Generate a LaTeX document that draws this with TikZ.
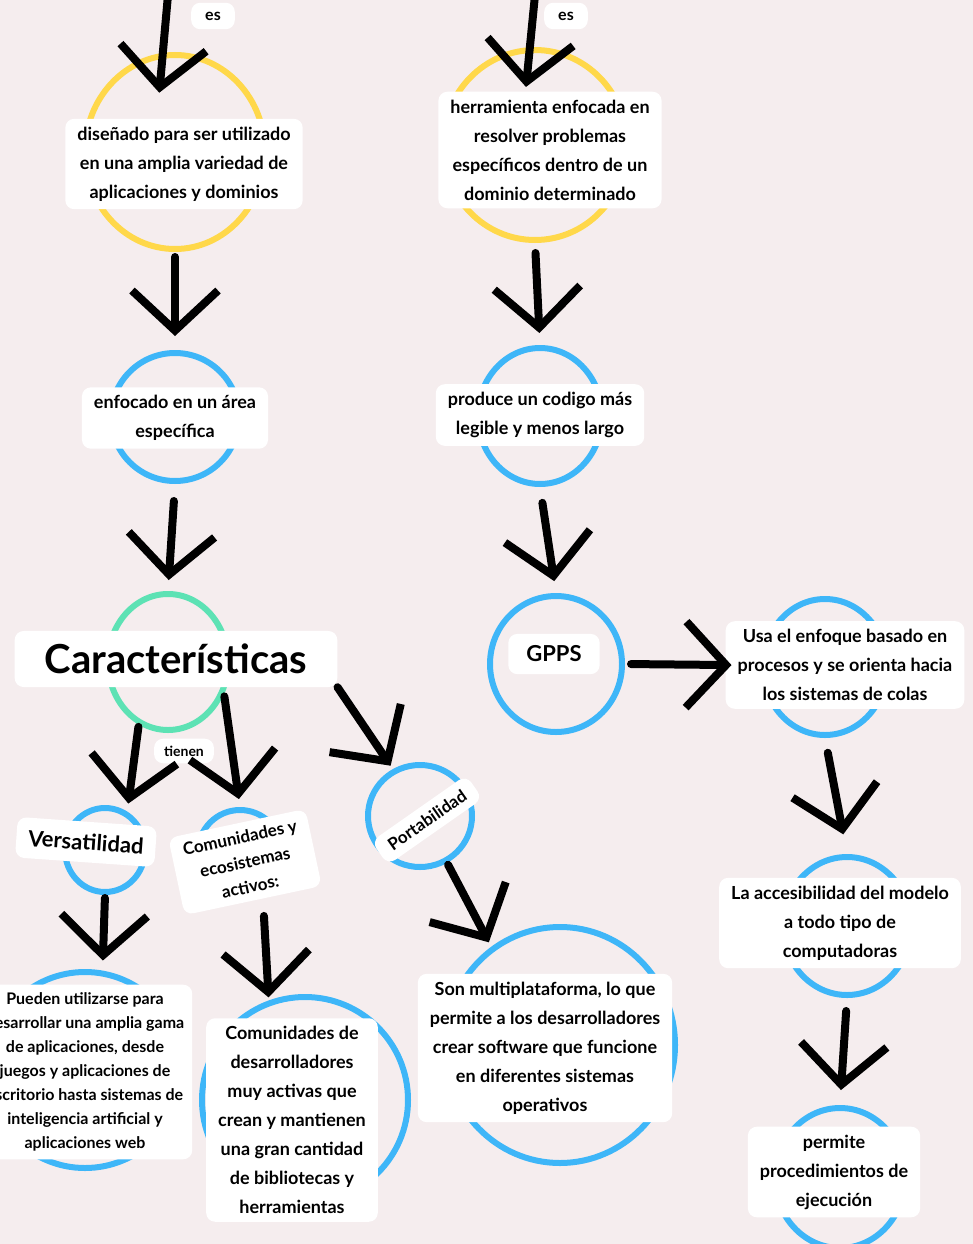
\documentclass[tikz,border=0pt]{standalone}
\usepackage{fontspec}
\setmainfont{Lato}
\usetikzlibrary{shapes.geometric, arrows.meta, positioning}
\definecolor{fondo}{RGB}{245,237,238}
\definecolor{amarillo}{RGB}{255,216,74}
\definecolor{azul}{RGB}{62,182,248}
\definecolor{verde}{RGB}{93,226,180}
\tikzset{
  ring/.style={ellipse, draw, line width=6pt, inner sep=0pt},
  txt/.style={fill=white, rounded corners=9pt, align=center, inner xsep=12pt,
    inner ysep=8pt, font=\fontsize{18}{29}\selectfont\bfseries},
  flecha/.style={line width=8pt, line cap=round,
    -{Straight Barb[length=40pt,width=86pt]}, shorten <=10pt, shorten >=12pt},
}

\begin{document}
\begin{tikzpicture}[x=1pt, y=-1pt]
    \useasboundingbox (0,0) rectangle (973,1244);
    \clip (0,0) rectangle (973,1244);
    \fill[fondo] (0,0) rectangle (973,1244);

    % rings
    \node[ring, amarillo, minimum width=180pt, minimum height=194pt] (y1) at (175,152) {};
    \node[ring, azul, minimum width=128pt, minimum height=128pt] (b1) at (175,417) {};
    \node[ring, verde, minimum width=120pt, minimum height=136pt] (g1) at (168,662) {};
    \node[ring, azul, minimum width=80pt, minimum height=84pt] (b2) at (105,850) {};
    \node[ring, azul, minimum width=84pt, minimum height=84pt] (b3) at (240,852) {};
    \node[ring, azul, minimum width=104pt, minimum height=102pt] (b4) at (420,816) {};
    \node[ring, azul, minimum width=196pt, minimum height=196pt] (b5) at (85,1070) {};
    \node[ring, azul, minimum width=206pt, minimum height=206pt] (b6) at (305,1100) {};
    \node[ring, azul, minimum width=230pt, minimum height=236pt] (b7) at (560,1045) {};
    \node[ring, amarillo, minimum width=184pt, minimum height=190pt] (y2) at (535,145) {};
    \node[ring, azul, minimum width=124pt, minimum height=136pt] (b8) at (540,416) {};
    \node[ring, azul, minimum width=132pt, minimum height=136pt] (b9) at (556,664) {};
    \node[ring, azul, minimum width=124pt, minimum height=136pt] (b10) at (825,667) {};
    \node[ring, azul, minimum width=128pt, minimum height=138pt] (b11) at (847,926) {};
    \node[ring, azul, minimum width=130pt, minimum height=140pt] (b12) at (840,1178) {};

    % labels
    \node[txt, font=\fontsize{16}{20}\selectfont\bfseries, inner xsep=14pt, inner ysep=9pt] (es1) at (213,16) {es};
    \node[txt, font=\fontsize{16}{20}\selectfont\bfseries, inner xsep=14pt, inner ysep=9pt] (es2) at (566,16) {es};
    \node[txt] (t1) at (184,164) {diseñado para ser utilizado\\en una amplia variedad de\\aplicaciones y dominios};
    \node[txt] (t2) at (175,418) {enfocado en un área\\específica};
    \node[txt, font=\fontsize{40}{46}\selectfont\bfseries, inner xsep=30pt, inner ysep=13pt] (t3) at (176,659) {Características};
    \node[txt, font=\fontsize{14}{18}\selectfont\bfseries, inner xsep=10pt, inner ysep=7pt] (tienen) at (184,751) {tienen};
    \node[txt, font=\fontsize{22}{26}\selectfont\bfseries, rotate=-4, inner ysep=12pt] (t4) at (86,842) {Versatilidad};
    \node[txt, font=\fontsize{17}{25}\selectfont\bfseries, rotate=12] (t5) at (245,862) {Comunidades y\\ecosistemas\\activos:};
    \node[txt, font=\fontsize{17}{22}\selectfont\bfseries, rotate=35] (t6) at (427,820) {Portabilidad};
    \node[txt, font=\fontsize{16}{24}\selectfont\bfseries, inner xsep=8pt] (t7) at (85,1072) {Pueden utilizarse para\\desarrollar una amplia gama\\de aplicaciones, desde\\juegos y aplicaciones de\\escritorio hasta sistemas de\\inteligencia artificial y\\aplicaciones web};
    \node[txt] (t8) at (292,1120) {Comunidades de\\desarrolladores\\muy activas que\\crean y mantienen\\una gran cantidad\\de bibliotecas y\\herramientas};
    \node[txt] (t9) at (545,1048) {Son multiplataforma, lo que\\permite a los desarrolladores\\crear software que funcione\\en diferentes sistemas\\operativos};
    \node[txt] (t10) at (550,150) {herramienta enfocada en\\resolver problemas\\específicos dentro de un\\dominio determinado};
    \node[txt] (t11) at (540,415) {produce un codigo más\\legible y menos largo};
    \node[txt, font=\fontsize{22}{26}\selectfont\bfseries, inner xsep=18pt, inner ysep=12pt] (t12) at (554,654) {GPPS};
    \node[txt] (t13) at (845,665) {Usa el enfoque basado en\\procesos y se orienta hacia\\los sistemas de colas};
    \node[txt] (t14) at (840,923) {La accesibilidad del modelo\\a todo tipo de\\computadoras};
    \node[txt] (t15) at (834,1172) {permite\\procedimientos de\\ejecución};

    % arrows
    \coordinate (top1) at (168,-5);
    \coordinate (top2) at (535,-5);
    \path[flecha]
        (top1) edge[shorten <=0pt, shorten >=-40pt] (y1.97)
        (y1.south) edge[shorten <=5pt, shorten >=14pt] (b1.north)
        (b1.south) edge[shorten <=17pt, shorten >=11pt] (g1.north)
        (g1.-115) edge[shorten <=2pt, shorten >=8pt] (b2.60)
        (g1.-30) edge[shorten <=2pt, shorten >=8pt] (b3.north)
        (t3.south east) edge[shorten <=0pt, shorten >=4pt] (b4.120)
        (b2.south) edge[shorten <=3pt, shorten >=10pt] (b5.80)
        (b3.-60) edge[shorten <=25pt, shorten >=3pt] (b6.110)
        (b4.-60) edge[shorten <=2pt, shorten >=5pt] (b7.125)
        (top2) edge[shorten <=0pt, shorten >=-40pt] (y2.93)
        (y2.south) edge (b8.north)
        (b8.south) edge[shorten <=16pt] (b9.north)
        (b9.east) edge[shorten <=6pt, shorten >=-6pt] (t13.west)
        (b10.south) edge[shorten <=15pt, shorten >=20pt] (b11.north)
        (b11.south) edge[shorten <=13pt, shorten >=15pt] (b12.north)
        ;
\end{tikzpicture}
\end{document}
